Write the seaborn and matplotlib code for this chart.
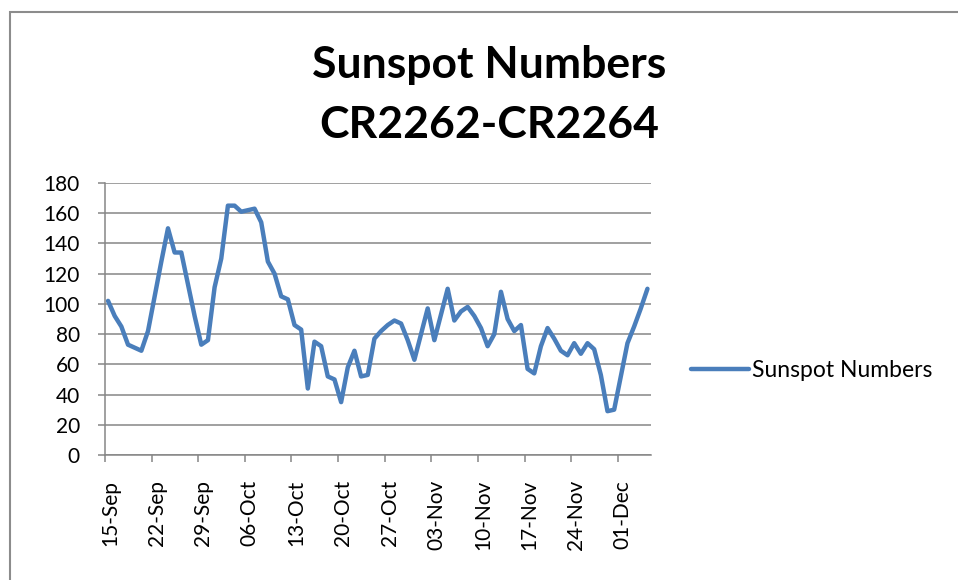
import pandas as pd
import seaborn as sns
import matplotlib.pyplot as plt
import matplotlib.dates as mdates
from matplotlib.patches import Rectangle
from matplotlib.transforms import ScaledTranslation

# daily sunspot numbers, 15-Sep .. 05-Dec
start = "2022-09-15"
sunspots = [102, 92, 85, 73, 71, 69, 82, 105, 128, 150,
            134, 134, 113, 92, 73, 76, 111, 130, 165, 165,
            161, 162, 163, 154, 128, 120, 105, 103, 86, 83,
            44, 75, 72, 52, 50, 35, 58, 69, 52, 53,
            77, 82, 86, 89, 87, 76, 63, 80, 97, 76,
            93, 110, 89, 95, 98, 92, 84, 72, 80, 108,
            90, 82, 86, 57, 54, 72, 84, 77, 69, 66,
            74, 67, 74, 70, 53, 29, 30, 52, 74, 85,
            97, 110]
series_name = "Sunspot Numbers"
title = "Sunspot Numbers\nCR2262-CR2264"
y_ticks = list(range(0, 181, 20))

dates = pd.date_range(start + " 11:00", periods=len(sunspots), freq="D")
df = pd.DataFrame({"date": dates, series_name: sunspots})

sns.set_style("white")
plt.rcParams["font.family"] = ["Lato", "DejaVu Sans"]
plt.rcParams["text.color"] = "black"

fig = plt.figure(figsize=(9.58, 5.8), dpi=100)
ax = fig.add_axes([0.1096, 0.2155, 0.57, 0.469])

sns.lineplot(data=df, x="date", y=series_name, ax=ax, color="#4a7ebb",
             linewidth=3.2, label=series_name)

grey = "#868686"
x0 = pd.Timestamp(start)
ax.set_xlim(x0, x0 + pd.Timedelta(days=82))
ax.set_ylim(0, 180)
ax.set_yticks(y_ticks)
ax.set_xticks(pd.date_range(start, periods=12, freq="7D"))
ax.xaxis.set_major_formatter(mdates.DateFormatter("%d-%b"))
ax.grid(axis="y", color=grey, linewidth=1.1)
ax.set_axisbelow(True)
for s in ["top", "right"]:
    ax.spines[s].set_visible(False)
for s in ["left", "bottom"]:
    ax.spines[s].set_color(grey)
    ax.spines[s].set_linewidth(1.1)
ax.tick_params(axis="both", direction="out", length=5, width=1.1, color=grey,
               labelsize=15, labelcolor="black")
ax.tick_params(axis="y", pad=13, left=True)
ax.tick_params(axis="x", pad=13, bottom=True)
plt.setp(ax.get_xticklabels(), rotation=90)
shift = ScaledTranslation(5 / 100, 0, fig.dpi_scale_trans)
for lbl in ax.get_xticklabels():
    lbl.set_transform(lbl.get_transform() + shift)
ax.set_xlabel("")
ax.set_ylabel("")

leg = ax.legend(loc="center left", bbox_to_anchor=(0.7, 0.362), bbox_transform=fig.transFigure,
                frameon=False, fontsize=16.5, handlelength=2.5, handletextpad=0.15)
for t in leg.get_texts():
    t.set_color("black")

fig.text(0.511, 0.836, title, ha="center", va="center", fontsize=32,
         fontweight="bold", linespacing=1.6, color="black")

fig.patches.append(Rectangle((0.0104, -0.1), 1.2, 1.079, transform=fig.transFigure,
                             fill=False, edgecolor="#8c8c8c", linewidth=1.5))

fig.savefig("out.png", dpi=100)
